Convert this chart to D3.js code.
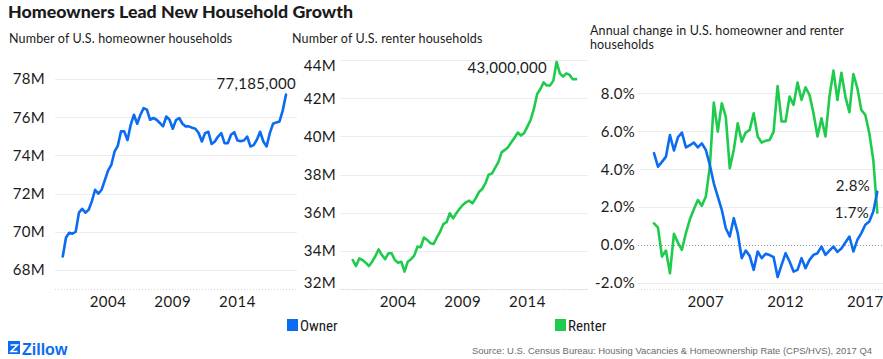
<!DOCTYPE html>
<html><head><meta charset="utf-8">
<script src="https://cdn.jsdelivr.net/npm/d3@7"></script>
<style>
body{margin:0;background:#fff}
svg{display:block}
text{font-family:Lato,"Open Sans",sans-serif;fill:#1b1b1b}
</style>
</head><body><svg id="c" width="883" height="359"></svg>
<script>
// ---- data ----
const levelStartQuarter = 2000.5;   // 2000 Q3, quarterly
const ownerHouseholds = [68.7,69.7,69.95,69.9,70.0,71.0,71.2,71.0,71.15,71.6,72.2,72.0,72.2,72.7,73.2,73.5,74.2,74.5,75.26,75.26,74.8,75.6,76.13,75.66,76.13,76.48,76.4,75.87,75.96,75.87,75.7,75.52,76.04,75.87,75.4,75.85,75.96,75.66,75.52,75.52,75.45,75.4,75.17,74.73,75.17,75.24,74.6,74.73,74.99,75.17,74.64,74.64,75.08,75.22,74.78,74.75,74.78,74.99,74.47,74.54,74.82,75.24,74.73,74.47,75.17,75.66,75.73,75.78,76.36,77.185];
const renterHouseholds = [33.52,33.2,33.6,33.52,33.38,33.2,33.43,33.73,34.08,33.78,33.56,33.87,33.87,33.52,33.38,33.43,32.91,33.43,33.56,33.75,34.22,34.19,34.7,34.57,34.4,34.36,34.7,35.0,35.4,35.5,35.97,35.7,35.97,36.2,36.4,36.54,36.63,36.49,36.75,37.08,37.24,37.54,37.99,38.05,38.35,38.65,39.16,39.29,39.43,39.69,39.92,40.2,40.04,40.18,40.52,40.87,41.45,42.22,42.48,42.83,42.66,42.67,42.92,43.9,43.3,43.13,43.3,43.22,42.99,43.0];
const changeStartQuarter = 2003.75; // 2003 Q4, quarterly
const ownerChange = [4.84,4.13,4.38,4.66,5.8,4.98,5.68,5.93,5.15,5.26,5.4,5.15,5.36,5.01,4.22,3.25,2.55,1.85,0.88,0.44,1.41,0.62,-0.7,-0.3,-0.58,-1.32,-0.35,-0.7,-0.47,-0.54,-0.65,-1.7,-1.06,-0.44,-0.88,-1.41,-1.32,-0.7,-1.23,-0.79,-0.53,-0.44,-0.09,-0.53,-0.3,-0.09,-0.37,-0.19,0.12,0.44,-0.35,0.26,0.62,1.06,1.23,1.76,2.8];
const renterChange = [1.14,0.91,-0.62,-0.3,-1.5,0.58,0.12,-0.26,0.62,1.35,1.88,2.37,2.06,2.55,4.13,7.51,5.98,7.48,6.77,4.05,5.01,6.42,5.45,5.93,6.07,6.95,5.72,5.4,5.5,5.54,5.98,8.39,6.51,6.51,7.83,7.39,8.57,7.65,8.32,7.92,6.95,5.72,6.68,5.72,7.83,9.2,7.65,9.09,7.83,7.0,9.02,8.27,7.12,6.86,5.89,4.48,1.7];

const levelYearTicks = [2004, 2009, 2014];
const changeYearTicks = [2007, 2012, 2017];
const ownerTicks = [68, 70, 72, 74, 76, 78];
const renterTicks = [32, 34, 36, 38, 40, 42, 44];
const changeTicks = [-2, 0, 2, 4, 6, 8];
const seriesNames = ["Owner", "Renter"];
const seriesColors = ["#0b6cf2", "#1fcb4d"];

const title = "Homeowners Lead New Household Growth";
const subtitles = ["Number of U.S. homeowner households", "Number of U.S. renter households", ["Annual change in U.S. homeowner and renter", "households"]];
const source = "Source: U.S. Census Bureau: Housing Vacancies & Homeownership Rate (CPS/HVS), 2017 Q4";

// ---- drawing ----
const svg = d3.select("#c");
const quarters = (start, n) => d3.range(n).map(i => start + i * 0.25);

svg.append("text").attr("x", 8).attr("y", 18).attr("font-size", 16.5).attr("font-weight", 900)
  .attr("textLength", 345).attr("lengthAdjust", "spacingAndGlyphs").text(title);

const plotTop = 60, plotBottom = 289;

function panel(cfg) {
  const g = svg.append("g");
  const x = d3.scaleLinear().domain(cfg.xDomain).range(cfg.xRange);
  const y = d3.scaleLinear().domain(cfg.yDomain).range([plotBottom, plotTop]);
  g.selectAll(".grid").data(cfg.yTicks).join("line")
    .attr("x1", cfg.grid[0]).attr("x2", cfg.grid[1])
    .attr("y1", d => Math.round(y(d)) + 0.5).attr("y2", d => Math.round(y(d)) + 0.5)
    .attr("stroke", d => d === 0 && cfg.zero ? "#9a9a9a" : "#ececec")
    .attr("stroke-dasharray", d => d === 0 && cfg.zero ? "1,2" : null);
  g.append("line").attr("x1", cfg.grid[0]).attr("x2", cfg.grid[1]).attr("y1", plotBottom + 0.5).attr("y2", plotBottom + 0.5)
    .attr("stroke", "#d4d4d4").attr("stroke-dasharray", "1,2");
  g.selectAll(".yl").data(cfg.yTicks).join("text")
    .attr("x", cfg.labelX).attr("y", d => Math.max(66, Math.min(283, y(d))))
    .attr("dy", "0.36em").attr("text-anchor", "end").attr("font-size", 15).attr("letter-spacing", 0.3)
    .text(cfg.fmt);
  g.selectAll(".xl").data(cfg.xTicks).join("text")
    .attr("x", d => x(d)).attr("y", 307).attr("text-anchor", "middle").attr("font-size", 15).attr("letter-spacing", 0.5)
    .text(d => d);
  const line = d3.line().x(d => x(d[0])).y(d => y(d[1]));
  cfg.series.forEach(s => {
    g.append("path").datum(quarters(cfg.start, s.values.length).map((t, i) => [t, s.values[i]]))
      .attr("d", line).attr("fill", "none").attr("stroke", s.color)
      .attr("stroke-width", 2.6).attr("stroke-linejoin", "round").attr("stroke-linecap", "round");
  });
  (cfg.notes || []).forEach(n => {
    g.append("text").attr("x", n.x).attr("y", n.y).attr("text-anchor", "end").attr("font-size", 15).attr("letter-spacing", 0.3).text(n.text);
  });
  return {x, y};
}

panel({
  xDomain: [1999.9, 2018.6], xRange: [55, 297], grid: [55, 297], labelX: 45,
  yDomain: [67, 79], yTicks: ownerTicks, fmt: d => d + "M", xTicks: levelYearTicks,
  start: levelStartQuarter,
  series: [{values: ownerHouseholds, color: seriesColors[0]}],
  notes: [{x: 296, y: 89, text: d3.format(",")(Math.round(ownerHouseholds[ownerHouseholds.length - 1] * 1e6))}]
});
panel({
  xDomain: [1999.9, 2018.6], xRange: [345, 587], grid: [340, 588], labelX: 336,
  yDomain: [32, 44], yTicks: renterTicks, fmt: d => d + "M", xTicks: levelYearTicks,
  start: levelStartQuarter,
  series: [{values: renterHouseholds, color: seriesColors[1]}],
  notes: [{x: 547, y: 73, text: d3.format(",")(Math.round(renterHouseholds[renterHouseholds.length - 1] * 1e6))}]
});
panel({
  xDomain: [2003.75, 2017.75], xRange: [654, 877.3], grid: [638, 883], labelX: 635, zero: true,
  yDomain: [-2.33, 9.76], yTicks: changeTicks, fmt: d => d.toFixed(1) + "%", xTicks: changeYearTicks,
  start: changeStartQuarter,
  series: [{values: renterChange, color: seriesColors[1]}, {values: ownerChange, color: seriesColors[0]}],
  notes: [{x: 870, y: 191, text: ownerChange[ownerChange.length - 1].toFixed(1) + "%"},
          {x: 869, y: 218, text: renterChange[renterChange.length - 1].toFixed(1) + "%"}]
});

svg.append("text").attr("x", 9).attr("y", 43).attr("font-size", 12.5).attr("letter-spacing", 0.15).text(subtitles[0]);
svg.append("text").attr("x", 292).attr("y", 43).attr("font-size", 12.5).attr("letter-spacing", 0.15).text(subtitles[1]);
subtitles[2].forEach((s, i) => svg.append("text").attr("x", 590).attr("y", 35 + i * 14).attr("font-size", 12.5).attr("letter-spacing", 0.15).text(s));

const leg = svg.append("g");
[287, 555].forEach((lx, i) => {
  leg.append("rect").attr("x", lx).attr("y", 319).attr("width", 11).attr("height", 12).attr("fill", seriesColors[i]);
  leg.append("text").attr("x", lx + 13).attr("y", 330.5).attr("font-size", 15)
    .style("font-family", "'Liberation Sans Narrow','Roboto Condensed','Liberation Sans',sans-serif").text(seriesNames[i]);
});

const logo = svg.append("g");
logo.append("rect").attr("x", 8).attr("y", 341).attr("width", 12).attr("height", 13).attr("fill", "#0b6cf2");
logo.append("path").attr("d", "M10.5 345 L17.5 345 L11 351.5 L17.5 351.5").attr("stroke", "#fff").attr("stroke-width", 1.6).attr("fill", "none");
logo.append("text").attr("x", 22).attr("y", 354.5).attr("font-size", 16).attr("font-weight", 700)
  .style("font-family", "'Liberation Sans Narrow','Liberation Sans',sans-serif").style("fill", "#0b6cf2").text("Zillow");
svg.append("text").attr("x", 472).attr("y", 354).attr("font-size", 9.5)
  .attr("textLength", 400).attr("lengthAdjust", "spacingAndGlyphs")
  .style("font-family", "'Liberation Sans Narrow','Liberation Sans',sans-serif").style("fill", "#6b6b6b").text(source);
</script>
</body></html>
